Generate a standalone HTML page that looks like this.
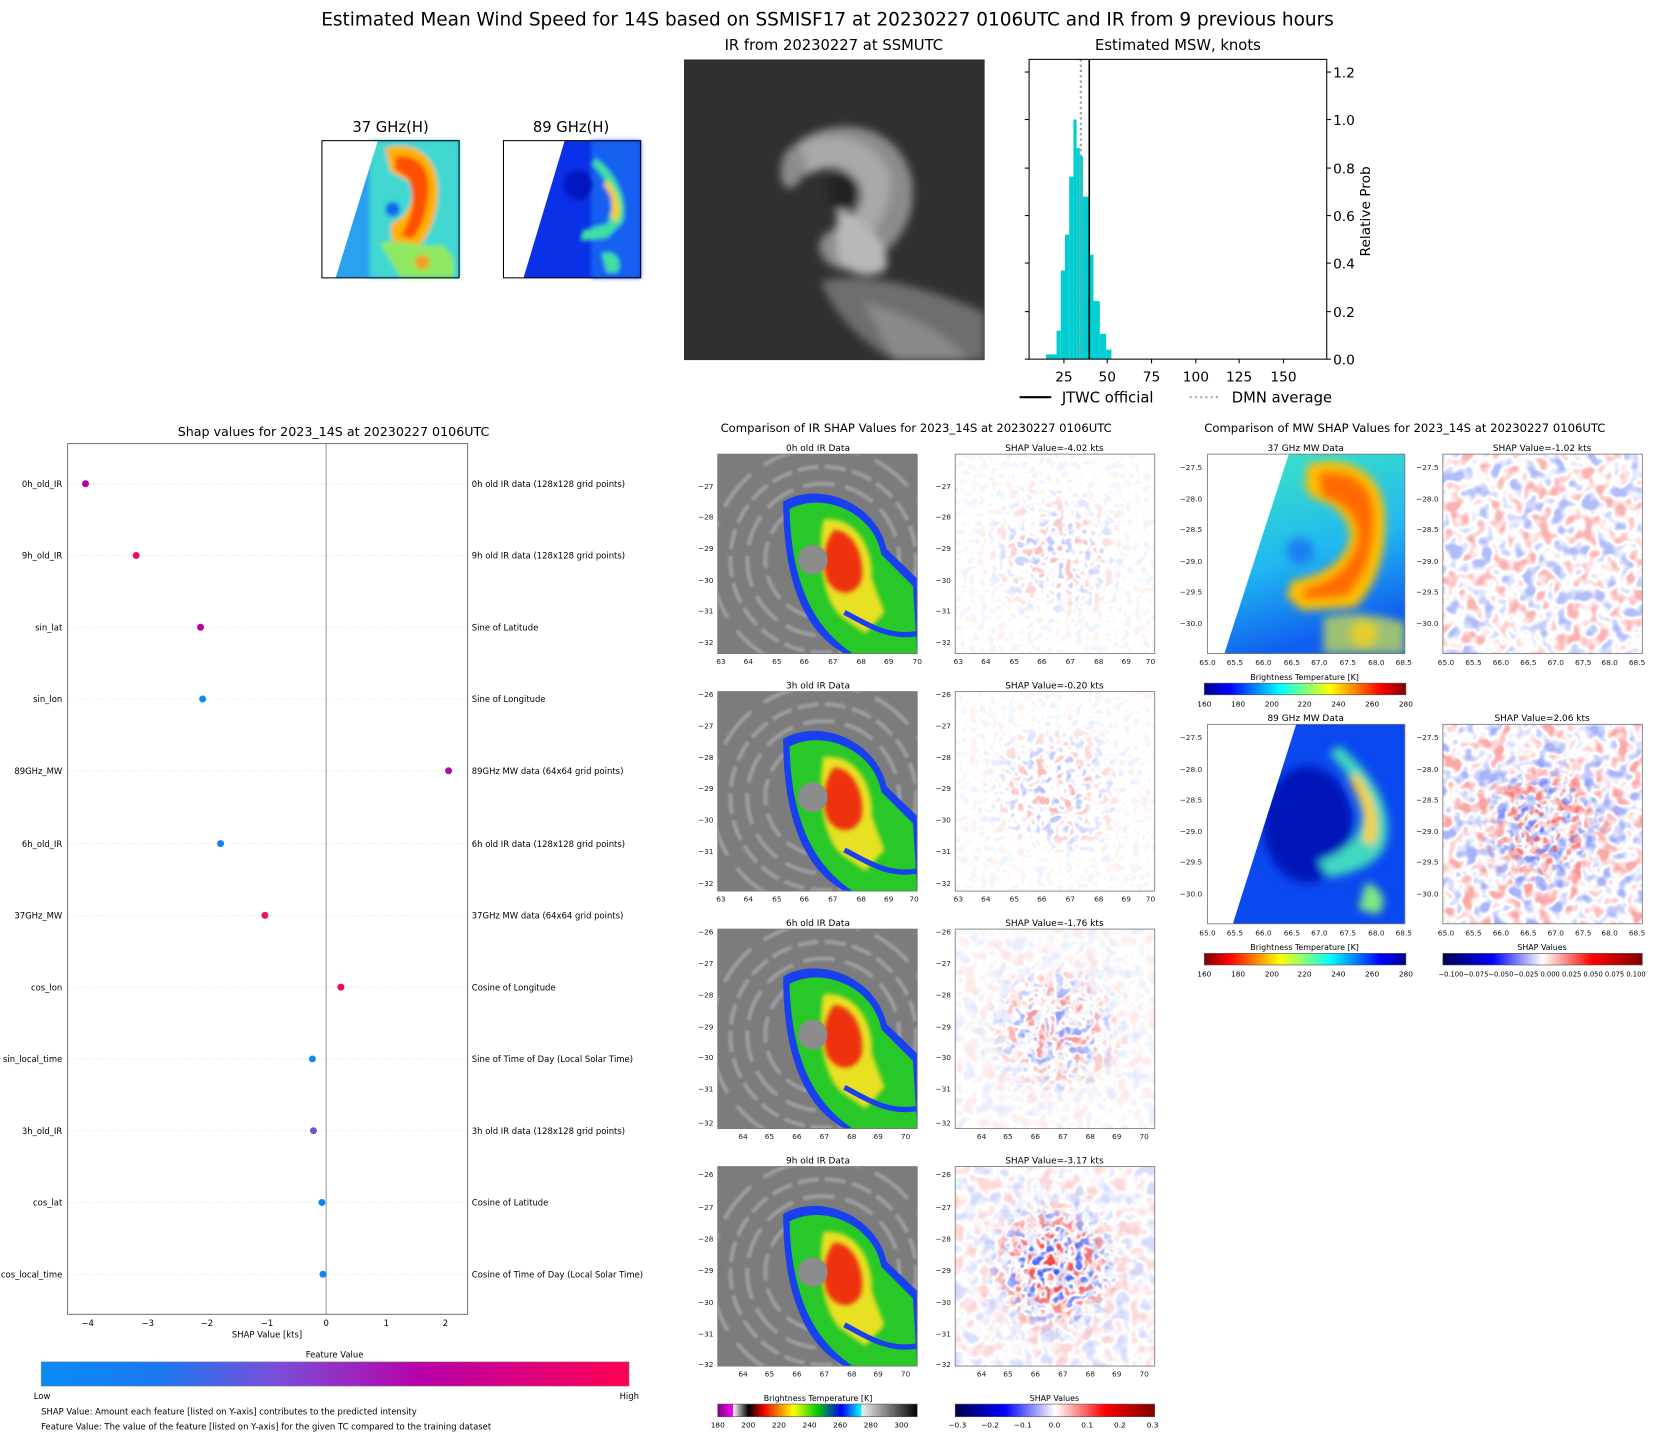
<!DOCTYPE html>
<html><head><meta charset="utf-8"><style>
html,body{margin:0;padding:0;background:#fff;}
svg{display:block;font-family:"DejaVu Sans","Liberation Sans",sans-serif;}
</style></head><body>
<svg width="1655" height="1436" viewBox="0 0 1568 1360" xmlns="http://www.w3.org/2000/svg">
<defs>
<filter id="b2"><feGaussianBlur stdDeviation="2"/></filter>
<filter id="b1"><feGaussianBlur stdDeviation="1"/></filter>
<filter id="b4"><feGaussianBlur stdDeviation="4"/></filter>
<filter id="b6"><feGaussianBlur stdDeviation="6"/></filter>
<filter id="nz" x="0" y="0" width="100%" height="100%"><feTurbulence type="fractalNoise" baseFrequency="0.11" numOctaves="2" seed="4" result="t"/><feColorMatrix in="t" type="matrix" values="0 0 0 0 0.85  0 0 0 0 0.05  0 0 0 0 0.05  6 0 0 0 -3.3" result="r"/><feColorMatrix in="t" type="matrix" values="0 0 0 0 0.05  0 0 0 0 0.1  0 0 0 0 0.9  -6 0 0 0 2.7" result="bl"/><feMerge><feMergeNode in="r"/><feMergeNode in="bl"/></feMerge></filter>
<filter id="nz2" x="0" y="0" width="100%" height="100%"><feTurbulence type="fractalNoise" baseFrequency="0.07" numOctaves="2" seed="9" result="t"/><feColorMatrix in="t" type="matrix" values="0 0 0 0 0.9  0 0 0 0 0.05  0 0 0 0 0.05  5 0 0 0 -2.6" result="r"/><feColorMatrix in="t" type="matrix" values="0 0 0 0 0.05  0 0 0 0 0.1  0 0 0 0 0.9  -5 0 0 0 2.4" result="bl"/><feMerge><feMergeNode in="r"/><feMergeNode in="bl"/></feMerge></filter>
<radialGradient id="cm"><stop offset="0" stop-color="#fff"/><stop offset="0.3" stop-color="#fff" stop-opacity="0.8"/><stop offset="0.7" stop-color="#fff" stop-opacity="0.1"/><stop offset="1" stop-color="#fff" stop-opacity="0"/></radialGradient>
<mask id="mc" maskContentUnits="objectBoundingBox"><rect width="1" height="1" fill="url(#cm)"/></mask>
<linearGradient id="jet"><stop offset="0" stop-color="#00008f"/><stop offset=".125" stop-color="#0000ff"/><stop offset=".375" stop-color="#00ffff"/><stop offset=".625" stop-color="#ffff00"/><stop offset=".875" stop-color="#ff0000"/><stop offset="1" stop-color="#800000"/></linearGradient>
<linearGradient id="jetr"><stop offset="0" stop-color="#800000"/><stop offset=".125" stop-color="#ff0000"/><stop offset=".375" stop-color="#ffff00"/><stop offset=".625" stop-color="#00ffff"/><stop offset=".875" stop-color="#0000ff"/><stop offset="1" stop-color="#00008f"/></linearGradient>
<linearGradient id="seis"><stop offset="0" stop-color="#00004c"/><stop offset=".25" stop-color="#0000ff"/><stop offset=".5" stop-color="#ffffff"/><stop offset=".75" stop-color="#ff0000"/><stop offset="1" stop-color="#800000"/></linearGradient>
<linearGradient id="irc"><stop offset="0" stop-color="#800080"/><stop offset=".077" stop-color="#ff00ff"/><stop offset=".078" stop-color="#ffffff"/><stop offset=".154" stop-color="#000000"/><stop offset=".23" stop-color="#ee0000"/><stop offset=".38" stop-color="#ffff00"/><stop offset=".5" stop-color="#00cc00"/><stop offset=".62" stop-color="#0000ff"/><stop offset=".72" stop-color="#00ffff"/><stop offset=".721" stop-color="#eeeeee"/><stop offset="1" stop-color="#000000"/></linearGradient>
<linearGradient id="fv"><stop offset="0" stop-color="#0a8cf8"/><stop offset=".2" stop-color="#1a78f0"/><stop offset=".4" stop-color="#7a4ed8"/><stop offset=".65" stop-color="#b800a8"/><stop offset="1" stop-color="#ff0052"/></linearGradient>
<linearGradient id="g37" x1="0" y1="0" x2="0.3" y2="1"><stop offset="0" stop-color="#40e8c0"/><stop offset="0.6" stop-color="#20b8f0"/><stop offset="1" stop-color="#1060f0"/></linearGradient>
<symbol id="irimg" viewBox="0 0 189 189">
<rect width="189" height="189" fill="#7c7c7c"/>
<g fill="none" stroke="#bdbdbd" stroke-opacity=".5" stroke-width="4" filter="url(#b1)">
<circle cx="100" cy="100" r="55" stroke-dasharray="25 8"/><circle cx="100" cy="100" r="72" stroke-dasharray="30 10"/><circle cx="100" cy="100" r="88" stroke-dasharray="20 6"/><circle cx="100" cy="100" r="106" stroke-dasharray="40 15"/></g>
<path d="M62,45 C95,25 150,45 160,90 L189,118 L189,189 L120,189 C85,170 62,125 62,45Z" fill="#1840f0"/>
<path d="M68,52 C100,35 148,55 155,95 L185,125 L189,189 L128,189 C92,165 70,125 68,52Z" fill="#28c828"/>
<path d="M100,62 C130,58 148,88 146,118 L158,150 L140,170 L118,155 C100,140 94,100 100,62Z" fill="#e8e020" filter="url(#b2)"/>
<path d="M110,72 C130,72 140,100 136,120 C130,135 112,135 104,120 C98,106 100,85 110,72Z" fill="#ee3010" filter="url(#b2)"/>
<circle cx="90" cy="100" r="14" fill="#8c8c8c"/>
<path d="M120,150 C140,160 160,175 189,170" stroke="#1840f0" stroke-width="5" fill="none"/>
</symbol>
</defs>
<rect width="1568" height="1360" fill="#fff"/>
<text x="784" y="24" font-size="17.5" text-anchor="middle">Estimated Mean Wind Speed for 14S based on SSMISF17 at 20230227 0106UTC and IR from 9 previous hours</text>

<!-- small 37 / 89 -->
<text x="370" y="125" font-size="14" text-anchor="middle">37 GHz(H)</text>
<g>
<rect x="305" y="133" width="130" height="130" fill="#2aa0f0"/>
<g filter="url(#b2)">
<rect x="350" y="133" width="85" height="130" fill="#40d8d0"/>
<path d="M365,140 C395,132 415,150 415,180 C415,205 405,225 395,235 L372,232 L370,212 C388,205 394,188 388,172 L370,162Z" fill="#ffb000"/>
<path d="M375,148 C398,145 408,162 406,182 C404,205 398,218 390,226 L380,222 C392,205 394,185 386,168 L374,160Z" fill="#ff5000"/>
<circle cx="372" cy="198" r="7" fill="#1068e8"/>
<path d="M360,230 C380,225 400,235 420,232 L430,245 L430,263 L380,263Z" fill="#90e860"/>
<circle cx="400" cy="248" r="7" fill="#f0a020"/>
</g>
<polygon points="305,133 358,133 318,263 305,263" fill="#fff"/>
<rect x="305" y="133" width="130" height="130" fill="none" stroke="#000" stroke-width="1"/>
</g>
<text x="541" y="125" font-size="14" text-anchor="middle">89 GHz(H)</text>
<g>
<rect x="477" y="133" width="130" height="130" fill="#0a30e8"/>
<g filter="url(#b2)">
<rect x="560" y="133" width="47" height="130" fill="#1860f0"/>
<path d="M565,150 C585,165 595,190 590,210 L575,225 L550,228 L552,218 L575,212 C585,195 578,170 560,155Z" fill="#40e0a0"/>
<path d="M575,170 C588,185 590,200 584,210 L578,205 C582,195 580,185 572,175Z" fill="#f0d020"/>
<circle cx="548" cy="175" r="14" fill="#0018c0"/>
<path d="M570,240 C585,235 590,250 585,258 L575,258Z" fill="#40e0a0"/>
</g>
<polygon points="477,133 535,133 496,263 477,263" fill="#fff"/>
<rect x="477" y="133" width="130" height="130" fill="none" stroke="#000" stroke-width="1"/>
</g>

<!-- IR top -->
<text x="790" y="47" font-size="14" text-anchor="middle">IR from 20230227 at  SSMUTC</text>
<svg x="648" y="56" width="285" height="285" viewBox="0 0 285 285">
<rect width="285" height="285" fill="#303030"/>
<g filter="url(#b4)">
<path d="M95,90 C130,50 200,55 215,110 C225,160 190,190 160,200 C130,200 120,175 135,165 C160,150 175,130 165,110 C150,95 120,100 110,115 C100,130 85,120 95,90Z" fill="#8c8c8c"/>
<path d="M110,80 C140,65 185,75 195,110 C200,140 180,165 160,180 L145,175 C160,160 172,140 165,118 C155,100 130,100 118,110Z" fill="#a8a8a8"/>
<path d="M145,140 C175,150 200,185 190,200 C170,210 150,200 145,185Z" fill="#b8b8b8"/>
<path d="M130,210 C180,200 240,220 285,240 L285,285 L200,285 C170,270 140,240 130,210Z" fill="#6e6e6e"/>
<path d="M170,230 C210,240 250,260 270,285 L200,285Z" fill="#8a8a8a"/>
<ellipse cx="150" cy="125" rx="14" ry="18" fill="#222"/>
</g>
</svg>

<!-- histogram -->
<text x="1116" y="47" font-size="14" text-anchor="middle">Estimated MSW, knots</text>
<g fill="#00ced1">
<rect x="991" y="335.5" width="10" height="4.5"/>
<rect x="1001" y="313" width="4" height="27"/>
<rect x="1005" y="256" width="4" height="84"/>
<rect x="1009" y="222" width="4" height="118"/>
<rect x="1013" y="167" width="4" height="173"/>
<rect x="1017" y="113" width="3" height="227"/>
<rect x="1020" y="140" width="3" height="200"/>
<rect x="1023" y="148" width="3" height="192"/>
<rect x="1026" y="186" width="6" height="154"/>
<rect x="1032" y="241" width="4" height="99"/>
<rect x="1036" y="285" width="6" height="55"/>
<rect x="1042" y="316" width="6" height="24"/>
<rect x="1048" y="331" width="5" height="9"/>
</g>
<line x1="1024" y1="56" x2="1024" y2="340" stroke="#999" stroke-width="2" stroke-dasharray="2 3"/>
<line x1="1032" y1="56" x2="1032" y2="340" stroke="#000" stroke-width="1.5"/>
<rect x="975" y="56" width="282" height="284" fill="none" stroke="#000" stroke-width="1"/>
<g stroke="#000" stroke-width="1">
<line x1="1008" y1="340" x2="1008" y2="344"/><line x1="1049" y1="340" x2="1049" y2="344"/><line x1="1091" y1="340" x2="1091" y2="344"/><line x1="1133" y1="340" x2="1133" y2="344"/><line x1="1174" y1="340" x2="1174" y2="344"/><line x1="1216" y1="340" x2="1216" y2="344"/>
<line x1="1257" y1="340" x2="1261" y2="340"/><line x1="1257" y1="295" x2="1261" y2="295"/><line x1="1257" y1="249" x2="1261" y2="249"/><line x1="1257" y1="204" x2="1261" y2="204"/><line x1="1257" y1="159" x2="1261" y2="159"/><line x1="1257" y1="113" x2="1261" y2="113"/><line x1="1257" y1="68" x2="1261" y2="68"/>
<line x1="971" y1="340" x2="975" y2="340"/><line x1="971" y1="295" x2="975" y2="295"/><line x1="971" y1="249" x2="975" y2="249"/><line x1="971" y1="204" x2="975" y2="204"/><line x1="971" y1="159" x2="975" y2="159"/><line x1="971" y1="113" x2="975" y2="113"/><line x1="971" y1="68" x2="975" y2="68"/>
</g>
<g font-size="13" text-anchor="middle">
<text x="1008" y="361">25</text><text x="1049" y="361">50</text><text x="1091" y="361">75</text><text x="1133" y="361">100</text><text x="1174" y="361">125</text><text x="1216" y="361">150</text>
</g>
<g font-size="13">
<text x="1263" y="345">0.0</text><text x="1263" y="300">0.2</text><text x="1263" y="254">0.4</text><text x="1263" y="209">0.6</text><text x="1263" y="164">0.8</text><text x="1263" y="118">1.0</text><text x="1263" y="73">1.2</text>
</g>
<text transform="translate(1298,200) rotate(-90)" font-size="13" text-anchor="middle">Relative Prob</text>
<line x1="966" y1="376" x2="996" y2="376" stroke="#000" stroke-width="2"/>
<text x="1006" y="381" font-size="14">JTWC official</text>
<line x1="1127" y1="376" x2="1157" y2="376" stroke="#aaa" stroke-width="2" stroke-dasharray="2 3"/>
<text x="1167" y="381" font-size="14">DMN average</text>

<!-- SHAP dot plot -->
<text x="316" y="413" font-size="12" text-anchor="middle">Shap values for 2023_14S at 20230227 0106UTC</text>
<g stroke="#ddd" stroke-width="0.8" stroke-dasharray="1 2">
<line x1="64" y1="458" x2="443" y2="458"/><line x1="64" y1="526" x2="443" y2="526"/><line x1="64" y1="594" x2="443" y2="594"/><line x1="64" y1="662" x2="443" y2="662"/><line x1="64" y1="730" x2="443" y2="730"/><line x1="64" y1="799" x2="443" y2="799"/><line x1="64" y1="867" x2="443" y2="867"/><line x1="64" y1="935" x2="443" y2="935"/><line x1="64" y1="1003" x2="443" y2="1003"/><line x1="64" y1="1071" x2="443" y2="1071"/><line x1="64" y1="1139" x2="443" y2="1139"/><line x1="64" y1="1207" x2="443" y2="1207"/>
</g>
<line x1="309" y1="420" x2="309" y2="1245" stroke="#999" stroke-width="1"/>
<rect x="64" y="420" width="379" height="825" fill="none" stroke="#777" stroke-width="1"/>
<g>
<circle cx="81" cy="458" r="3.3" fill="#b8009c"/>
<circle cx="129" cy="526" r="3.3" fill="#f5055f"/>
<circle cx="190" cy="594" r="3.3" fill="#bc00a0"/>
<circle cx="192" cy="662" r="3.3" fill="#0a8cf0"/>
<circle cx="425" cy="730" r="3.3" fill="#a810b4"/>
<circle cx="209" cy="799" r="3.3" fill="#0e84f0"/>
<circle cx="251" cy="867" r="3.3" fill="#f0106a"/>
<circle cx="323" cy="935" r="3.3" fill="#f5055f"/>
<circle cx="296" cy="1003" r="3.3" fill="#0c88f0"/>
<circle cx="297" cy="1071" r="3.3" fill="#7850d8"/>
<circle cx="305" cy="1139" r="3.3" fill="#0c88f0"/>
<circle cx="306" cy="1207" r="3.3" fill="#0c88f0"/>
</g>
<g font-size="8" text-anchor="end">
<text x="59" y="461">0h_old_IR</text><text x="59" y="529">9h_old_IR</text><text x="59" y="597">sin_lat</text><text x="59" y="665">sin_lon</text><text x="59" y="733">89GHz_MW</text><text x="59" y="802">6h_old_IR</text><text x="59" y="870">37GHz_MW</text><text x="59" y="938">cos_lon</text><text x="59" y="1006">sin_local_time</text><text x="59" y="1074">3h_old_IR</text><text x="59" y="1142">cos_lat</text><text x="59" y="1210">cos_local_time</text>
</g>
<g font-size="8">
<text x="447" y="461">0h old IR data (128x128 grid points)</text><text x="447" y="529">9h old IR data (128x128 grid points)</text><text x="447" y="597">Sine of Latitude</text><text x="447" y="665">Sine of Longitude</text><text x="447" y="733">89GHz MW data (64x64 grid points)</text><text x="447" y="802">6h old IR data (128x128 grid points)</text><text x="447" y="870">37GHz MW data (64x64 grid points)</text><text x="447" y="938">Cosine of Longitude</text><text x="447" y="1006">Sine of Time of Day (Local Solar Time)</text><text x="447" y="1074">3h old IR data (128x128 grid points)</text><text x="447" y="1142">Cosine of Latitude</text><text x="447" y="1210">Cosine of Time of Day (Local Solar Time)</text>
</g>
<g font-size="8" text-anchor="middle">
<text x="83" y="1256">−4</text><text x="140" y="1256">−3</text><text x="196" y="1256">−2</text><text x="253" y="1256">−1</text><text x="309" y="1256">0</text><text x="366" y="1256">1</text><text x="422" y="1256">2</text>
<text x="253" y="1267">SHAP Value [kts]</text>
<text x="317" y="1286">Feature Value</text>
</g>
<rect x="39" y="1290" width="557" height="23" fill="url(#fv)" stroke="#888" stroke-width="0.5"/>
<text x="32" y="1325" font-size="8">Low</text>
<text x="587" y="1325" font-size="8">High</text>
<text x="39" y="1340" font-size="8">SHAP Value: Amount each feature [listed on Y-axis] contributes to the predicted intensity</text>
<text x="39" y="1354" font-size="8">Feature Value: The value of the feature [listed on Y-axis] for the given TC compared to the training dataset</text>

<!-- IR comparison -->
<text x="868" y="409" font-size="11" text-anchor="middle">Comparison of IR SHAP Values for 2023_14S at 20230227 0106UTC</text>
<g font-size="8.5" text-anchor="middle">
<text x="775" y="427">0h old IR Data</text><text x="999" y="427">SHAP Value=-4.02 kts</text>
<text x="775" y="652">3h old IR Data</text><text x="999" y="652">SHAP Value=-0.20 kts</text>
<text x="775" y="877">6h old IR Data</text><text x="999" y="877">SHAP Value=-1.76 kts</text>
<text x="775" y="1102">9h old IR Data</text><text x="999" y="1102">SHAP Value=-3.17 kts</text>
</g>
<use href="#irimg" x="680" y="430" width="189" height="189"/>
<use href="#irimg" x="680" y="655" width="189" height="189"/>
<use href="#irimg" x="680" y="880" width="189" height="189"/>
<use href="#irimg" x="680" y="1105" width="189" height="189"/>
<g>
<rect x="905" y="430" width="189" height="189" filter="url(#nz)" opacity=".06"/>
<rect x="905" y="430" width="189" height="189" filter="url(#nz)" opacity=".3" mask="url(#mc)"/>
<rect x="905" y="655" width="189" height="189" filter="url(#nz)" opacity=".06"/>
<rect x="905" y="655" width="189" height="189" filter="url(#nz)" opacity=".35" mask="url(#mc)"/>
<rect x="905" y="880" width="189" height="189" filter="url(#nz2)" opacity=".1"/>
<rect x="905" y="880" width="189" height="189" filter="url(#nz)" opacity=".6" mask="url(#mc)"/>
<rect x="905" y="1105" width="189" height="189" filter="url(#nz2)" opacity=".2"/>
<rect x="905" y="1105" width="189" height="189" filter="url(#nz)" opacity="1" mask="url(#mc)"/>
</g>
<g fill="none" stroke="#777" stroke-width="0.8">
<rect x="680" y="430" width="189" height="189"/><rect x="905" y="430" width="189" height="189"/>
<rect x="680" y="655" width="189" height="189"/><rect x="905" y="655" width="189" height="189"/>
<rect x="680" y="880" width="189" height="189"/><rect x="905" y="880" width="189" height="189"/>
<rect x="680" y="1105" width="189" height="189"/><rect x="905" y="1105" width="189" height="189"/>
</g>
<g font-size="7" text-anchor="middle" fill="#222">
<text x="683" y="629">63</text><text x="709" y="629">64</text><text x="736" y="629">65</text><text x="762" y="629">66</text><text x="789" y="629">67</text><text x="816" y="629">68</text><text x="842" y="629">69</text><text x="869" y="629">70</text>
<text x="908" y="629">63</text><text x="934" y="629">64</text><text x="961" y="629">65</text><text x="987" y="629">66</text><text x="1014" y="629">67</text><text x="1041" y="629">68</text><text x="1067" y="629">69</text><text x="1090" y="629">70</text>
<text x="683" y="854">63</text><text x="709" y="854">64</text><text x="736" y="854">65</text><text x="762" y="854">66</text><text x="789" y="854">67</text><text x="816" y="854">68</text><text x="842" y="854">69</text><text x="866" y="854">70</text>
<text x="908" y="854">63</text><text x="934" y="854">64</text><text x="961" y="854">65</text><text x="987" y="854">66</text><text x="1014" y="854">67</text><text x="1041" y="854">68</text><text x="1067" y="854">69</text><text x="1090" y="854">70</text>
<text x="704" y="1079">64</text><text x="729" y="1079">65</text><text x="755" y="1079">66</text><text x="781" y="1079">67</text><text x="807" y="1079">68</text><text x="832" y="1079">69</text><text x="858" y="1079">70</text>
<text x="930" y="1079">64</text><text x="955" y="1079">65</text><text x="981" y="1079">66</text><text x="1007" y="1079">67</text><text x="1033" y="1079">68</text><text x="1058" y="1079">69</text><text x="1084" y="1079">70</text>
<text x="704" y="1304">64</text><text x="729" y="1304">65</text><text x="755" y="1304">66</text><text x="781" y="1304">67</text><text x="807" y="1304">68</text><text x="832" y="1304">69</text><text x="858" y="1304">70</text>
<text x="930" y="1304">64</text><text x="955" y="1304">65</text><text x="981" y="1304">66</text><text x="1007" y="1304">67</text><text x="1033" y="1304">68</text><text x="1058" y="1304">69</text><text x="1084" y="1304">70</text>
</g>
<g font-size="7" text-anchor="end" fill="#222">
<text x="676" y="463">−27</text><text x="676" y="492">−28</text><text x="676" y="522">−29</text><text x="676" y="552">−30</text><text x="676" y="581">−31</text><text x="676" y="611">−32</text>
<text x="901" y="463">−27</text><text x="901" y="492">−28</text><text x="901" y="522">−29</text><text x="901" y="552">−30</text><text x="901" y="581">−31</text><text x="901" y="611">−32</text>
<text x="676" y="660">−26</text><text x="676" y="690">−27</text><text x="676" y="720">−28</text><text x="676" y="749">−29</text><text x="676" y="779">−30</text><text x="676" y="809">−31</text><text x="676" y="839">−32</text>
<text x="901" y="660">−26</text><text x="901" y="690">−27</text><text x="901" y="720">−28</text><text x="901" y="749">−29</text><text x="901" y="779">−30</text><text x="901" y="809">−31</text><text x="901" y="839">−32</text>
<text x="676" y="885">−26</text><text x="676" y="915">−27</text><text x="676" y="945">−28</text><text x="676" y="975">−29</text><text x="676" y="1004">−30</text><text x="676" y="1034">−31</text><text x="676" y="1066">−32</text>
<text x="901" y="885">−26</text><text x="901" y="915">−27</text><text x="901" y="945">−28</text><text x="901" y="975">−29</text><text x="901" y="1004">−30</text><text x="901" y="1034">−31</text><text x="901" y="1066">−32</text>
<text x="676" y="1115">−26</text><text x="676" y="1146">−27</text><text x="676" y="1176">−28</text><text x="676" y="1206">−29</text><text x="676" y="1236">−30</text><text x="676" y="1266">−31</text><text x="676" y="1295">−32</text>
<text x="901" y="1115">−26</text><text x="901" y="1146">−27</text><text x="901" y="1176">−28</text><text x="901" y="1206">−29</text><text x="901" y="1236">−30</text><text x="901" y="1266">−31</text><text x="901" y="1295">−32</text>
</g>
<text x="775" y="1327" font-size="7.5" text-anchor="middle">Brightness Temperature [K]</text>
<rect x="680" y="1330" width="189" height="12" fill="url(#irc)" stroke="#555" stroke-width="0.6"/>
<g font-size="7" text-anchor="middle"><text x="680" y="1352">180</text><text x="709" y="1352">200</text><text x="738" y="1352">220</text><text x="767" y="1352">240</text><text x="796" y="1352">260</text><text x="825" y="1352">280</text><text x="854" y="1352">300</text></g>
<text x="999" y="1327" font-size="7.5" text-anchor="middle">SHAP Values</text>
<rect x="905" y="1330" width="189" height="12" fill="url(#seis)" stroke="#555" stroke-width="0.6"/>
<g font-size="7" text-anchor="middle"><text x="907" y="1352">−0.3</text><text x="938" y="1352">−0.2</text><text x="969" y="1352">−0.1</text><text x="999" y="1352">0.0</text><text x="1030" y="1352">0.1</text><text x="1061" y="1352">0.2</text><text x="1092" y="1352">0.3</text></g>

<!-- MW comparison -->
<text x="1331" y="409" font-size="11" text-anchor="middle">Comparison of MW SHAP Values for 2023_14S at 20230227 0106UTC</text>
<g font-size="8.5" text-anchor="middle">
<text x="1237" y="427">37 GHz MW Data</text><text x="1461" y="427">SHAP Value=-1.02 kts</text>
<text x="1237" y="683">89 GHz MW Data</text><text x="1461" y="683">SHAP Value=2.06 kts</text>
</g>
<svg x="1144" y="430" width="187" height="189" viewBox="0 0 187 189">
<rect width="187" height="189" fill="url(#g37)"/>
<g filter="url(#b4)">
<path d="M95,10 C130,0 165,15 168,55 C170,95 160,125 140,145 L90,148 L75,135 L80,120 C115,115 135,95 135,75 C132,55 115,45 100,42 L92,30Z" fill="#ffc000"/>
<path d="M105,18 C140,12 158,30 158,60 C158,95 148,118 132,135 L92,138 L90,128 C122,120 142,100 142,75 C140,55 125,45 108,40Z" fill="#ff6a00"/>
<circle cx="88" cy="92" r="13" fill="#1a80f0"/>
<circle cx="148" cy="170" r="13" fill="#ff9000"/>
<path d="M110,155 C130,150 160,150 187,160 L187,189 L110,189Z" fill="#d8e840" opacity=".7"/>
</g>
<polygon points="0,0 77,0 16,189 0,189" fill="#fff"/>
</svg>
<svg x="1144" y="686" width="187" height="189" viewBox="0 0 187 189">
<rect width="187" height="189" fill="#0a48f0"/>
<g filter="url(#b4)">
<ellipse cx="95" cy="95" rx="42" ry="55" fill="#0014b8"/>
<path d="M125,20 C160,50 175,80 170,110 C165,130 145,140 115,145 L105,130 C135,120 150,100 145,80 C140,60 130,40 115,28Z" fill="#40d8c0"/>
<path d="M140,45 C160,70 165,95 157,115 L147,110 C153,90 147,70 135,55Z" fill="#ffd020"/>
<path d="M150,150 C170,155 170,175 160,180 L143,175Z" fill="#80e880"/>
</g>
<polygon points="0,0 84,0 24,189 0,189" fill="#fff"/>
</svg>
<rect x="1367" y="430" width="189" height="189" filter="url(#nz2)" opacity=".4"/>
<rect x="1367" y="686" width="189" height="189" filter="url(#nz2)" opacity=".45"/>
<rect x="1367" y="686" width="189" height="189" filter="url(#nz)" opacity=".7" mask="url(#mc)"/>
<g fill="none" stroke="#777" stroke-width="0.8">
<rect x="1144" y="430" width="187" height="189"/><rect x="1367" y="430" width="189" height="189"/>
<rect x="1144" y="686" width="187" height="189"/><rect x="1367" y="686" width="189" height="189"/>
</g>
<g font-size="7" text-anchor="middle" fill="#222">
<text x="1144" y="630">65.0</text><text x="1170" y="630">65.5</text><text x="1197" y="630">66.0</text><text x="1224" y="630">66.5</text><text x="1250" y="630">67.0</text><text x="1277" y="630">67.5</text><text x="1304" y="630">68.0</text><text x="1330" y="630">68.5</text>
<text x="1370" y="630">65.0</text><text x="1396" y="630">65.5</text><text x="1422" y="630">66.0</text><text x="1448" y="630">66.5</text><text x="1474" y="630">67.0</text><text x="1500" y="630">67.5</text><text x="1525" y="630">68.0</text><text x="1551" y="630">68.5</text>
<text x="1144" y="886">65.0</text><text x="1170" y="886">65.5</text><text x="1197" y="886">66.0</text><text x="1224" y="886">66.5</text><text x="1250" y="886">67.0</text><text x="1277" y="886">67.5</text><text x="1304" y="886">68.0</text><text x="1330" y="886">68.5</text>
<text x="1370" y="886">65.0</text><text x="1396" y="886">65.5</text><text x="1422" y="886">66.0</text><text x="1448" y="886">66.5</text><text x="1474" y="886">67.0</text><text x="1500" y="886">67.5</text><text x="1525" y="886">68.0</text><text x="1551" y="886">68.5</text>
</g>
<g font-size="7" text-anchor="end" fill="#222">
<text x="1139" y="445">−27.5</text><text x="1139" y="475">−28.0</text><text x="1139" y="504">−28.5</text><text x="1139" y="534">−29.0</text><text x="1139" y="563">−29.5</text><text x="1139" y="593">−30.0</text>
<text x="1363" y="445">−27.5</text><text x="1363" y="475">−28.0</text><text x="1363" y="504">−28.5</text><text x="1363" y="534">−29.0</text><text x="1363" y="563">−29.5</text><text x="1363" y="593">−30.0</text>
<text x="1139" y="701">−27.5</text><text x="1139" y="731">−28.0</text><text x="1139" y="760">−28.5</text><text x="1139" y="790">−29.0</text><text x="1139" y="819">−29.5</text><text x="1139" y="849">−30.0</text>
<text x="1363" y="701">−27.5</text><text x="1363" y="731">−28.0</text><text x="1363" y="760">−28.5</text><text x="1363" y="790">−29.0</text><text x="1363" y="819">−29.5</text><text x="1363" y="849">−30.0</text>
</g>
<text x="1236" y="644" font-size="7.5" text-anchor="middle">Brightness Temperature [K]</text>
<rect x="1141" y="647" width="191" height="11" fill="url(#jet)" stroke="#555" stroke-width="0.6"/>
<g font-size="7" text-anchor="middle"><text x="1141" y="669">160</text><text x="1173" y="669">180</text><text x="1205" y="669">200</text><text x="1236" y="669">220</text><text x="1268" y="669">240</text><text x="1300" y="669">260</text><text x="1332" y="669">280</text></g>
<text x="1236" y="900" font-size="7.5" text-anchor="middle">Brightness Temperature [K]</text>
<rect x="1141" y="903" width="191" height="11" fill="url(#jetr)" stroke="#555" stroke-width="0.6"/>
<g font-size="7" text-anchor="middle"><text x="1141" y="925">160</text><text x="1173" y="925">180</text><text x="1205" y="925">200</text><text x="1236" y="925">220</text><text x="1268" y="925">240</text><text x="1300" y="925">260</text><text x="1332" y="925">280</text></g>
<text x="1461" y="900" font-size="7.5" text-anchor="middle">SHAP Values</text>
<rect x="1367" y="903" width="189" height="11" fill="url(#seis)" stroke="#555" stroke-width="0.6"/>
<text x="1461" y="925" font-size="6.4" text-anchor="middle">−0.100−0.075−0.050−0.025 0.000 0.025 0.050 0.075 0.100</text>
</svg>
</body></html>
